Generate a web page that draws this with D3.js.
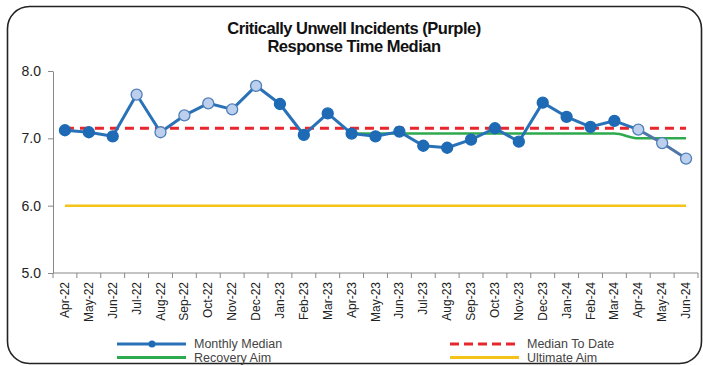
<!DOCTYPE html>
<html>
<head>
<meta charset="utf-8">
<script src="https://cdn.jsdelivr.net/npm/d3@7"></script>
<style>
  html, body { margin: 0; padding: 0; background: #fff; }
  svg { display: block; font-family: "Liberation Sans", Arial, sans-serif; }
</style>
</head>
<body>
<svg id="chart" width="703" height="366"></svg>
<script>
// Months shown on the x axis
const months = ["Apr-22","May-22","Jun-22","Jul-22","Aug-22","Sep-22","Oct-22","Nov-22","Dec-22",
  "Jan-23","Feb-23","Mar-23","Apr-23","May-23","Jun-23","Jul-23","Aug-23","Sep-23","Oct-23",
  "Nov-23","Dec-23","Jan-24","Feb-24","Mar-24","Apr-24","May-24","Jun-24"];

// Monthly median response time (minutes)
const monthlyMedian = [7.12,7.09,7.03,7.65,7.09,7.34,7.52,7.43,7.78,7.51,7.05,7.37,7.07,7.03,
  7.10,6.89,6.86,6.98,7.15,6.95,7.53,7.32,7.17,7.26,7.13,6.93,6.70];

// Months drawn with the pale marker fill
const paleMonths = ["Jul-22","Aug-22","Sep-22","Oct-22","Nov-22","Dec-22","Apr-24","May-24","Jun-24"];

// Recovery aim (starts Apr-23)
const recoveryMonths = ["Apr-23","May-23","Jun-23","Jul-23","Aug-23","Sep-23","Oct-23","Nov-23",
  "Dec-23","Jan-24","Feb-24","Mar-24","Apr-24","May-24","Jun-24"];
const recoveryAim = [7.07,7.07,7.07,7.07,7.07,7.07,7.07,7.07,7.07,7.07,7.07,7.07,7.0,7.0,7.0];

const medianToDate = 7.15;
const ultimateAim = 6.0;

const yTicks = [5.0, 6.0, 7.0, 8.0];

const svg = d3.select("#chart");
const margin = { left: 53, right: 5, top: 71, bottom: 93 };
const W = 703, H = 366;

const x = d3.scaleBand().domain(months).range([margin.left, W - margin.right]).padding(0);
const y = d3.scaleLinear().domain([5, 8]).range([H - margin.bottom, margin.top]);
const cx = m => x(m) + x.bandwidth() / 2;

// Rounded frame
svg.append("rect")
  .attr("x", 7.5).attr("y", 6.5).attr("width", 694).attr("height", 357)
  .attr("rx", 22).attr("ry", 22)
  .attr("fill", "#fff").attr("stroke", "#222").attr("stroke-width", 1.6);

// Title
const title = svg.append("text")
  .attr("text-anchor", "middle").attr("font-weight", "bold").attr("font-size", 16.5)
  .attr("fill", "#111").attr("letter-spacing", -0.5);
title.append("tspan").attr("x", 354).attr("y", 34).text("Critically Unwell Incidents (Purple)");
title.append("tspan").attr("x", 354).attr("y", 52).text("Response Time Median");

// Y axis
const yAxis = svg.append("g").attr("transform", `translate(${margin.left},0)`)
  .call(d3.axisLeft(y).tickValues(yTicks).tickFormat(d3.format(".1f")).tickSize(5).tickSizeOuter(0));
yAxis.select(".domain").attr("stroke", "#888");
yAxis.selectAll(".tick line").attr("stroke", "#888");
yAxis.selectAll(".tick text").attr("font-size", 14).attr("fill", "#222").attr("x", -12);

// X axis with ticks at month boundaries
const xAxisG = svg.append("g").attr("transform", `translate(0,${y(5)})`);
xAxisG.append("line").attr("x1", margin.left).attr("x2", W - margin.right)
  .attr("stroke", "#888").attr("stroke-width", 1);
const bounds = months.map(m => x(m)).concat([x(months[months.length - 1]) + x.bandwidth()]);
xAxisG.selectAll("line.tk").data(bounds).join("line").attr("class", "tk")
  .attr("x1", d => d).attr("x2", d => d).attr("y1", 0).attr("y2", 5).attr("stroke", "#888");
xAxisG.selectAll("text").data(months).join("text")
  .attr("transform", d => `translate(${cx(d) + 4},9) rotate(-90)`)
  .attr("text-anchor", "end").attr("font-size", 12).attr("fill", "#222")
  .text(d => d);

// Ultimate aim
svg.append("line")
  .attr("x1", cx(months[0])).attr("x2", cx(months[months.length - 1]))
  .attr("y1", y(ultimateAim)).attr("y2", y(ultimateAim))
  .attr("stroke", "#f5c218").attr("stroke-width", 2.5);

// Recovery aim
svg.append("path")
  .datum(recoveryMonths.map((m, i) => [cx(m), y(recoveryAim[i])]))
  .attr("d", d3.line().curve(d3.curveMonotoneX))
  .attr("fill", "none").attr("stroke", "#2eaa4e").attr("stroke-width", 2.5);

// Median to date
svg.append("line")
  .attr("x1", cx(months[0])).attr("x2", cx(months[months.length - 1]))
  .attr("y1", y(medianToDate)).attr("y2", y(medianToDate))
  .attr("stroke", "#e8262d").attr("stroke-width", 3).attr("stroke-dasharray", "9,6");

// Monthly median line; the closing run of pale months is drawn in a greyer blue
const pts = months.map((m, i) => ({ m, v: monthlyMedian[i], pale: paleMonths.includes(m) }));
for (let i = 1; i < pts.length; i++) {
  const a = pts[i - 1], b = pts[i];
  const late = a.pale && b.pale && i > 20;
  svg.append("line")
    .attr("x1", cx(a.m)).attr("y1", y(a.v)).attr("x2", cx(b.m)).attr("y2", y(b.v))
    .attr("stroke", late ? "#4f77a6" : "#2a72b8").attr("stroke-width", 3)
    .attr("stroke-linecap", "round");
}
svg.selectAll("circle.pt").data(pts).join("circle").attr("class", "pt")
  .attr("cx", d => cx(d.m)).attr("cy", d => y(d.v)).attr("r", 5.5)
  .attr("fill", d => d.pale ? "#bcd0ee" : "#1e6ab5")
  .attr("stroke", d => d.pale ? "#4f7fb8" : "#1e6ab5").attr("stroke-width", 1.3);

// Legend
const legend = svg.append("g").attr("font-size", 12.5);
const items = [
  { label: "Monthly Median", x: 117, y: 344, color: "#2a72b8", dash: null, marker: true },
  { label: "Median To Date", x: 450, y: 344, color: "#e8262d", dash: "9,5", marker: false },
  { label: "Recovery Aim", x: 117, y: 357.5, color: "#2eaa4e", dash: null, marker: false },
  { label: "Ultimate Aim", x: 450, y: 357.5, color: "#f5c218", dash: null, marker: false }
];
items.forEach(it => {
  legend.append("line").attr("x1", it.x).attr("x2", it.x + 69).attr("y1", it.y).attr("y2", it.y)
    .attr("stroke", it.color).attr("stroke-width", 3).attr("stroke-dasharray", it.dash);
  if (it.marker) legend.append("circle").attr("cx", it.x + 35).attr("cy", it.y).attr("r", 3.5)
    .attr("fill", "#1e6ab5");
  legend.append("text").attr("x", it.x + 77).attr("y", it.y + 4.3).attr("fill", "#444").text(it.label);
});
</script>
</body>
</html>
